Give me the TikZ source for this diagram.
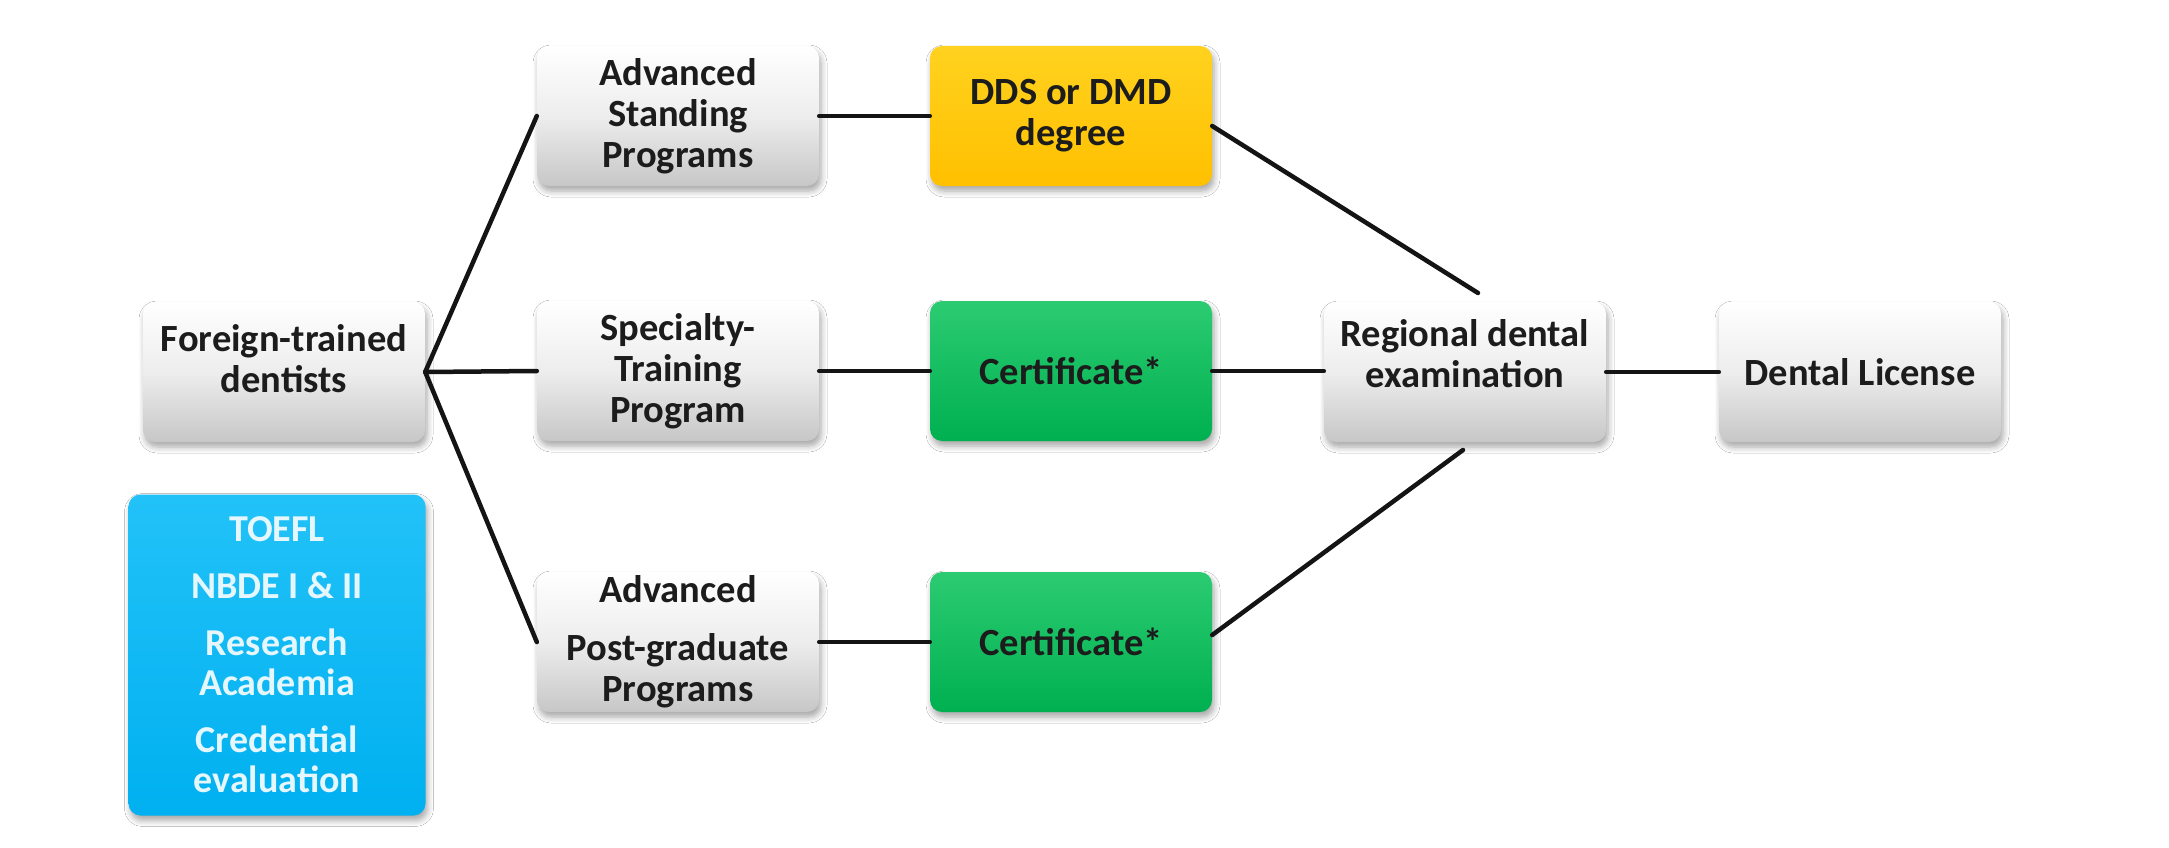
\documentclass[tikz,border=0pt]{standalone}
\usepackage{fontspec}
\setmainfont{Carlito}
\usetikzlibrary{shadows.blur}
\definecolor{ddsyellow}{HTML}{FFC000}
\definecolor{ddstop}{HTML}{FFD21F}
\definecolor{certgreen}{HTML}{00B050}
\definecolor{certtop}{HTML}{2CCB72}
\definecolor{reqblue}{HTML}{00B0F0}
\definecolor{reqtop}{HTML}{22C2F8}
\definecolor{boxtext}{HTML}{1C1C1C}
\begin{document}
\begin{tikzpicture}[x=1pt,y=-1pt]
\tikzset{
  box/.style={rounded corners=12pt, minimum width=282pt, minimum height=140pt,
    align=center, inner sep=2pt, text=boxtext,
    font=\fontsize{38.5}{41}\selectfont\bfseries,
    blur shadow={shadow xshift=2pt, shadow yshift=-5pt, shadow blur steps=6, shadow blur radius=6pt, shadow opacity=35}},
  graybox/.style={box, top color=white, bottom color=black!22, middle color=black!7},
  yellowbox/.style={box, top color=ddstop, bottom color=ddsyellow},
  greenbox/.style={box, top color=certtop, bottom color=certgreen},
  bluebox/.style={box, top color=reqtop, bottom color=reqblue, text=white!90!reqblue,
    minimum width=297pt, minimum height=321pt, font=\fontsize{38}{40}\selectfont\bfseries},
  link/.style={line width=4.5pt, black!92, line cap=round}
}
\useasboundingbox (0,0) rectangle (2169,848);
\fill[white] (0,0) rectangle (2169,848);

% nodes
\node[graybox] (fd) at (284,372) {Foreign-trained\\dentists\\[-14pt]\phantom{x}};
\node[graybox] (as) at (678,116) {Advanced\\Standing\\Programs};
\node[yellowbox] (dds) at (1071,116) {DDS or DMD\\degree};
\node[graybox] (st) at (678,371) {Specialty-\\Training\\Program};
\node[greenbox] (c1) at (1071,371) {Certificate*};
\node[graybox] (ap) at (678,642) {Advanced\\[17pt]Post-graduate\\Programs};
\node[greenbox] (c2) at (1071,642) {Certificate*};
\node[graybox] (rd) at (1465,372) {Regional dental\\examination\\[-4pt]\phantom{x}};
\node[graybox] (dl) at (1860,372) {Dental License};
\node[bluebox] (req) at (277,655) {TOEFL\\[17pt]NBDE I \& II\\[17pt]Research\\Academia\\[17pt]Credential\\evaluation};

\coordinate (rdtop) at (1478,293);
\coordinate (rdbot) at (1463,450);

% connectors
\draw[link] (fd.east) -- (as.west);
\draw[link] (fd.east) -- (st.west);
\draw[link] (fd.east) -- (ap.west);
\draw[link] (as.east) -- (dds.west);
\draw[link] (st.east) -- (c1.west);
\draw[link] (ap.east) -- (c2.west);
\draw[link] (c1.east) -- (c1.east -| rd.west);
\draw[link] (rd.east) -- (dl.west);
\draw[link] ([yshift=-10pt]dds.east) -- (rdtop);
\draw[link] ([yshift=7pt]c2.east) -- (rdbot);
\end{tikzpicture}
\end{document}
